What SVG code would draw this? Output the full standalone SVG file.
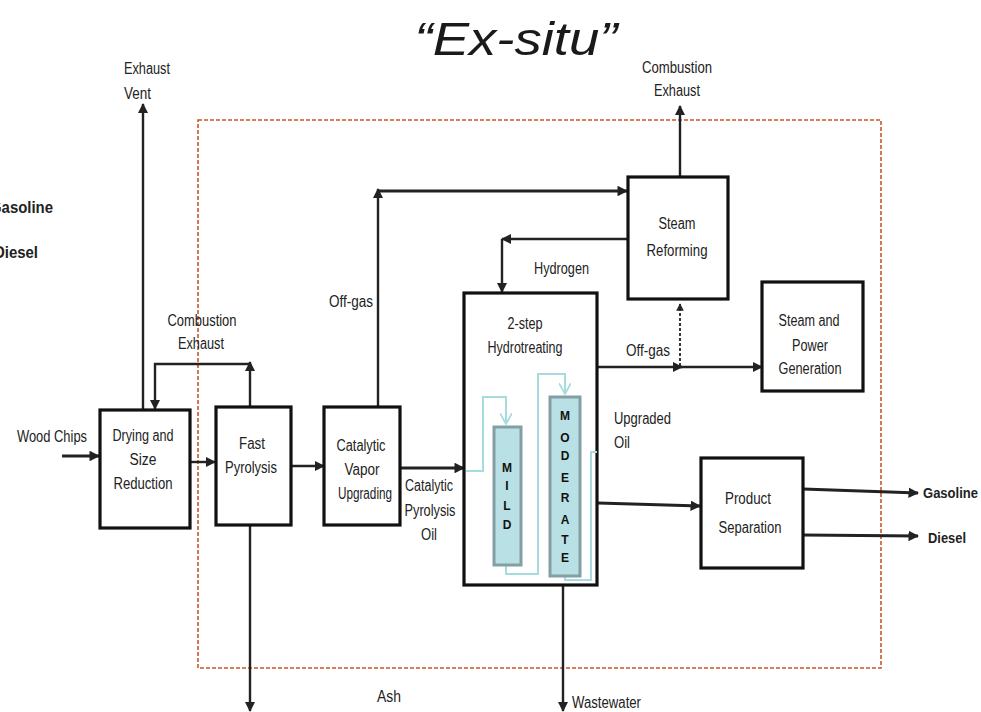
<svg xmlns="http://www.w3.org/2000/svg" width="981" height="712" viewBox="0 0 981 712">
<style>
text{font-family:"Liberation Sans",Arial,sans-serif;fill:#222;}
.t{font-size:16px;}
.c{text-anchor:middle;}
.b{font-weight:bold;}
.box{fill:#fff;stroke:#111;stroke-width:3.2;}
.ln{fill:none;stroke:#222;stroke-width:2.4;}
.thk{stroke-width:3.2;}
.pipe{fill:none;stroke:#a6dce0;stroke-width:2;}
.col{fill:#b9e0e4;stroke:#849fa3;stroke-width:3;}
.lt{font-size:12px;font-weight:bold;text-anchor:middle;fill:#111;}
</style>
<defs>
<marker id="ah" viewBox="0 0 10 10" refX="9" refY="5" markerWidth="4.2" markerHeight="4.2" orient="auto" markerUnits="strokeWidth">
<path d="M0,0 L10,5 L0,10 z" fill="#222"/>
</marker>
<marker id="ahs" viewBox="0 0 10 10" refX="9" refY="5" markerWidth="3.3" markerHeight="3.3" orient="auto" markerUnits="strokeWidth">
<path d="M0,0 L10,5 L0,10 z" fill="#222"/>
</marker>
<marker id="pa" viewBox="0 0 10 10" refX="9" refY="5" markerWidth="6" markerHeight="6" orient="auto" markerUnits="strokeWidth">
<path d="M0,0 L9,5 L0,10" fill="none" stroke="#a6dce0" stroke-width="1.5"/>
</marker>
</defs>

<!-- title -->
<text x="516" y="55" class="c" style="font-size:46px;font-style:italic;fill:#1a1a1a" textLength="203" lengthAdjust="spacingAndGlyphs">“Ex-situ”</text>

<!-- clipped left labels -->
<text x="53" y="213" class="t b" style="text-anchor:end" textLength="63" lengthAdjust="spacingAndGlyphs">Gasoline</text>
<text x="38" y="258" class="t b" style="text-anchor:end" textLength="44" lengthAdjust="spacingAndGlyphs">Diesel</text>

<!-- system boundary -->
<rect x="198" y="120" width="683" height="548" fill="none" stroke="#c8572a" stroke-width="1.6" stroke-dasharray="4 2"/>

<g id="connectors">
<line class="ln" x1="143" y1="410" x2="143" y2="104" marker-end="url(#ah)"/>
<line class="ln thk" x1="62" y1="456" x2="99" y2="456" marker-end="url(#ahs)"/>
<line class="ln" x1="190" y1="462" x2="215" y2="462" marker-end="url(#ah)"/>
<line class="ln" x1="291" y1="466" x2="324" y2="466" marker-end="url(#ah)"/>
<line class="ln thk" x1="400" y1="468" x2="464" y2="468" marker-end="url(#ahs)"/>
<line class="ln" x1="250" y1="407" x2="250" y2="362" marker-end="url(#ah)"/>
<polyline class="ln" points="250,364 155,364 155,409" marker-end="url(#ah)"/>
<line class="ln" x1="250" y1="525" x2="250" y2="711" marker-end="url(#ah)"/>
<line class="ln" x1="378" y1="407" x2="378" y2="189" marker-end="url(#ah)"/>
<line class="ln thk" x1="378" y1="191" x2="627" y2="191" marker-end="url(#ahs)"/>
<line class="ln" x1="680" y1="177" x2="680" y2="106" marker-end="url(#ah)"/>
<line class="ln" x1="628" y1="239" x2="502" y2="239" marker-end="url(#ah)"/>
<line class="ln" x1="502" y1="239" x2="502" y2="292" marker-end="url(#ah)"/>
<line class="ln" x1="598" y1="367" x2="682" y2="367" marker-end="url(#ah)"/>
<line class="ln" x1="680" y1="367" x2="762" y2="367" marker-end="url(#ah)"/>
<line x1="680" y1="366" x2="680" y2="304" stroke="#222" stroke-width="1.8" stroke-dasharray="3 2" marker-end="url(#ah)"/>
<line class="ln thk" x1="598" y1="503" x2="700" y2="506" marker-end="url(#ahs)"/>
<line class="ln thk" x1="803" y1="489" x2="918" y2="493" marker-end="url(#ahs)"/>
<line class="ln thk" x1="803" y1="535" x2="918" y2="536" marker-end="url(#ahs)"/>
<line class="ln" x1="563" y1="586" x2="563" y2="711" marker-end="url(#ah)"/>
</g>

<g id="drying">
<rect class="box" x="100" y="410" width="90" height="118"/>
<text class="t c" x="143" y="441" textLength="61" lengthAdjust="spacingAndGlyphs">Drying and</text>
<text class="t c" x="143" y="465" textLength="27" lengthAdjust="spacingAndGlyphs">Size</text>
<text class="t c" x="143" y="489" textLength="59" lengthAdjust="spacingAndGlyphs">Reduction</text>
</g>

<g id="fast-pyrolysis">
<rect class="box" x="216" y="407" width="75" height="118"/>
<text class="t c" x="252" y="449" textLength="26" lengthAdjust="spacingAndGlyphs">Fast</text>
<text class="t c" x="251" y="473" textLength="52" lengthAdjust="spacingAndGlyphs">Pyrolysis</text>
</g>

<g id="cvu">
<rect class="box" x="324" y="407" width="76" height="118"/>
<text class="t c" x="361" y="451" textLength="49" lengthAdjust="spacingAndGlyphs">Catalytic</text>
<text class="t c" x="362" y="475" textLength="35" lengthAdjust="spacingAndGlyphs">Vapor</text>
<text class="t c" x="365" y="499" textLength="54" lengthAdjust="spacingAndGlyphs">Upgrading</text>
</g>

<g id="hydrotreating">
<rect class="box" x="464" y="293" width="133" height="292"/>
<text class="t c" x="525" y="329" textLength="35" lengthAdjust="spacingAndGlyphs">2-step</text>
<text class="t c" x="525" y="353" textLength="75" lengthAdjust="spacingAndGlyphs">Hydrotreating</text>
<polyline class="pipe" points="466,471 483,471 483,397 506,397 506,424" marker-end="url(#pa)"/>
<polyline class="pipe" points="506,566 506,574 538,574 538,374 565,374 565,394" marker-end="url(#pa)"/>
<polyline class="pipe" points="565,577 565,580 591,580 591,452 597,452"/>
<rect class="col" x="494" y="427" width="27" height="138"/>
<rect class="col" x="550" y="397" width="30" height="179"/>
<text class="lt" x="507" y="472">M</text>
<text class="lt" x="507" y="490">I</text>
<text class="lt" x="507" y="510">L</text>
<text class="lt" x="507" y="529">D</text>
<text class="lt" x="565" y="420">M</text>
<text class="lt" x="565" y="442">O</text>
<text class="lt" x="565" y="460">D</text>
<text class="lt" x="565" y="482">E</text>
<text class="lt" x="565" y="502">R</text>
<text class="lt" x="565" y="524">A</text>
<text class="lt" x="565" y="544">T</text>
<text class="lt" x="565" y="562">E</text>
</g>

<g id="steam-reforming">
<rect class="box" x="628" y="177" width="100" height="122"/>
<text class="t c" x="677" y="229" textLength="37" lengthAdjust="spacingAndGlyphs">Steam</text>
<text class="t c" x="677" y="256" textLength="61" lengthAdjust="spacingAndGlyphs">Reforming</text>
</g>

<g id="steam-power">
<rect class="box" x="762" y="282" width="101" height="109"/>
<text class="t c" x="809" y="326" textLength="61" lengthAdjust="spacingAndGlyphs">Steam and</text>
<text class="t c" x="810" y="351" textLength="36" lengthAdjust="spacingAndGlyphs">Power</text>
<text class="t c" x="810" y="374" textLength="63" lengthAdjust="spacingAndGlyphs">Generation</text>
</g>

<g id="product-separation">
<rect class="box" x="701" y="458" width="102" height="110"/>
<text class="t c" x="748" y="504" textLength="46" lengthAdjust="spacingAndGlyphs">Product</text>
<text class="t c" x="750" y="533" textLength="63" lengthAdjust="spacingAndGlyphs">Separation</text>
</g>

<g id="labels">
<text class="t" x="124" y="74" textLength="46" lengthAdjust="spacingAndGlyphs">Exhaust</text>
<text class="t" x="124" y="99" textLength="27" lengthAdjust="spacingAndGlyphs">Vent</text>
<text class="t" x="17" y="442" textLength="70" lengthAdjust="spacingAndGlyphs">Wood Chips</text>
<text class="t c" x="202" y="326" textLength="69" lengthAdjust="spacingAndGlyphs">Combustion</text>
<text class="t c" x="201" y="349" textLength="46" lengthAdjust="spacingAndGlyphs">Exhaust</text>
<text class="t c" x="677" y="73" textLength="70" lengthAdjust="spacingAndGlyphs">Combustion</text>
<text class="t c" x="677" y="96" textLength="46" lengthAdjust="spacingAndGlyphs">Exhaust</text>
<text class="t" x="329" y="307" textLength="44" lengthAdjust="spacingAndGlyphs">Off-gas</text>
<text class="t" x="534" y="274" textLength="55" lengthAdjust="spacingAndGlyphs">Hydrogen</text>
<text class="t" x="626" y="356" textLength="44" lengthAdjust="spacingAndGlyphs">Off-gas</text>
<text class="t" x="614" y="424" textLength="57" lengthAdjust="spacingAndGlyphs">Upgraded</text>
<text class="t" x="614" y="448" textLength="16" lengthAdjust="spacingAndGlyphs">Oil</text>
<text class="t c" x="429" y="491" textLength="48" lengthAdjust="spacingAndGlyphs">Catalytic</text>
<text class="t c" x="430" y="516" textLength="51" lengthAdjust="spacingAndGlyphs">Pyrolysis</text>
<text class="t c" x="429" y="540" textLength="16" lengthAdjust="spacingAndGlyphs">Oil</text>
<text class="b" style="font-size:14px" x="923" y="498" textLength="55" lengthAdjust="spacingAndGlyphs">Gasoline</text>
<text class="b" style="font-size:15px" x="928" y="543" textLength="38" lengthAdjust="spacingAndGlyphs">Diesel</text>
<text class="t" x="377" y="702" textLength="24" lengthAdjust="spacingAndGlyphs">Ash</text>
<text class="t" x="572" y="708" textLength="69" lengthAdjust="spacingAndGlyphs">Wastewater</text>
</g>
</svg>
